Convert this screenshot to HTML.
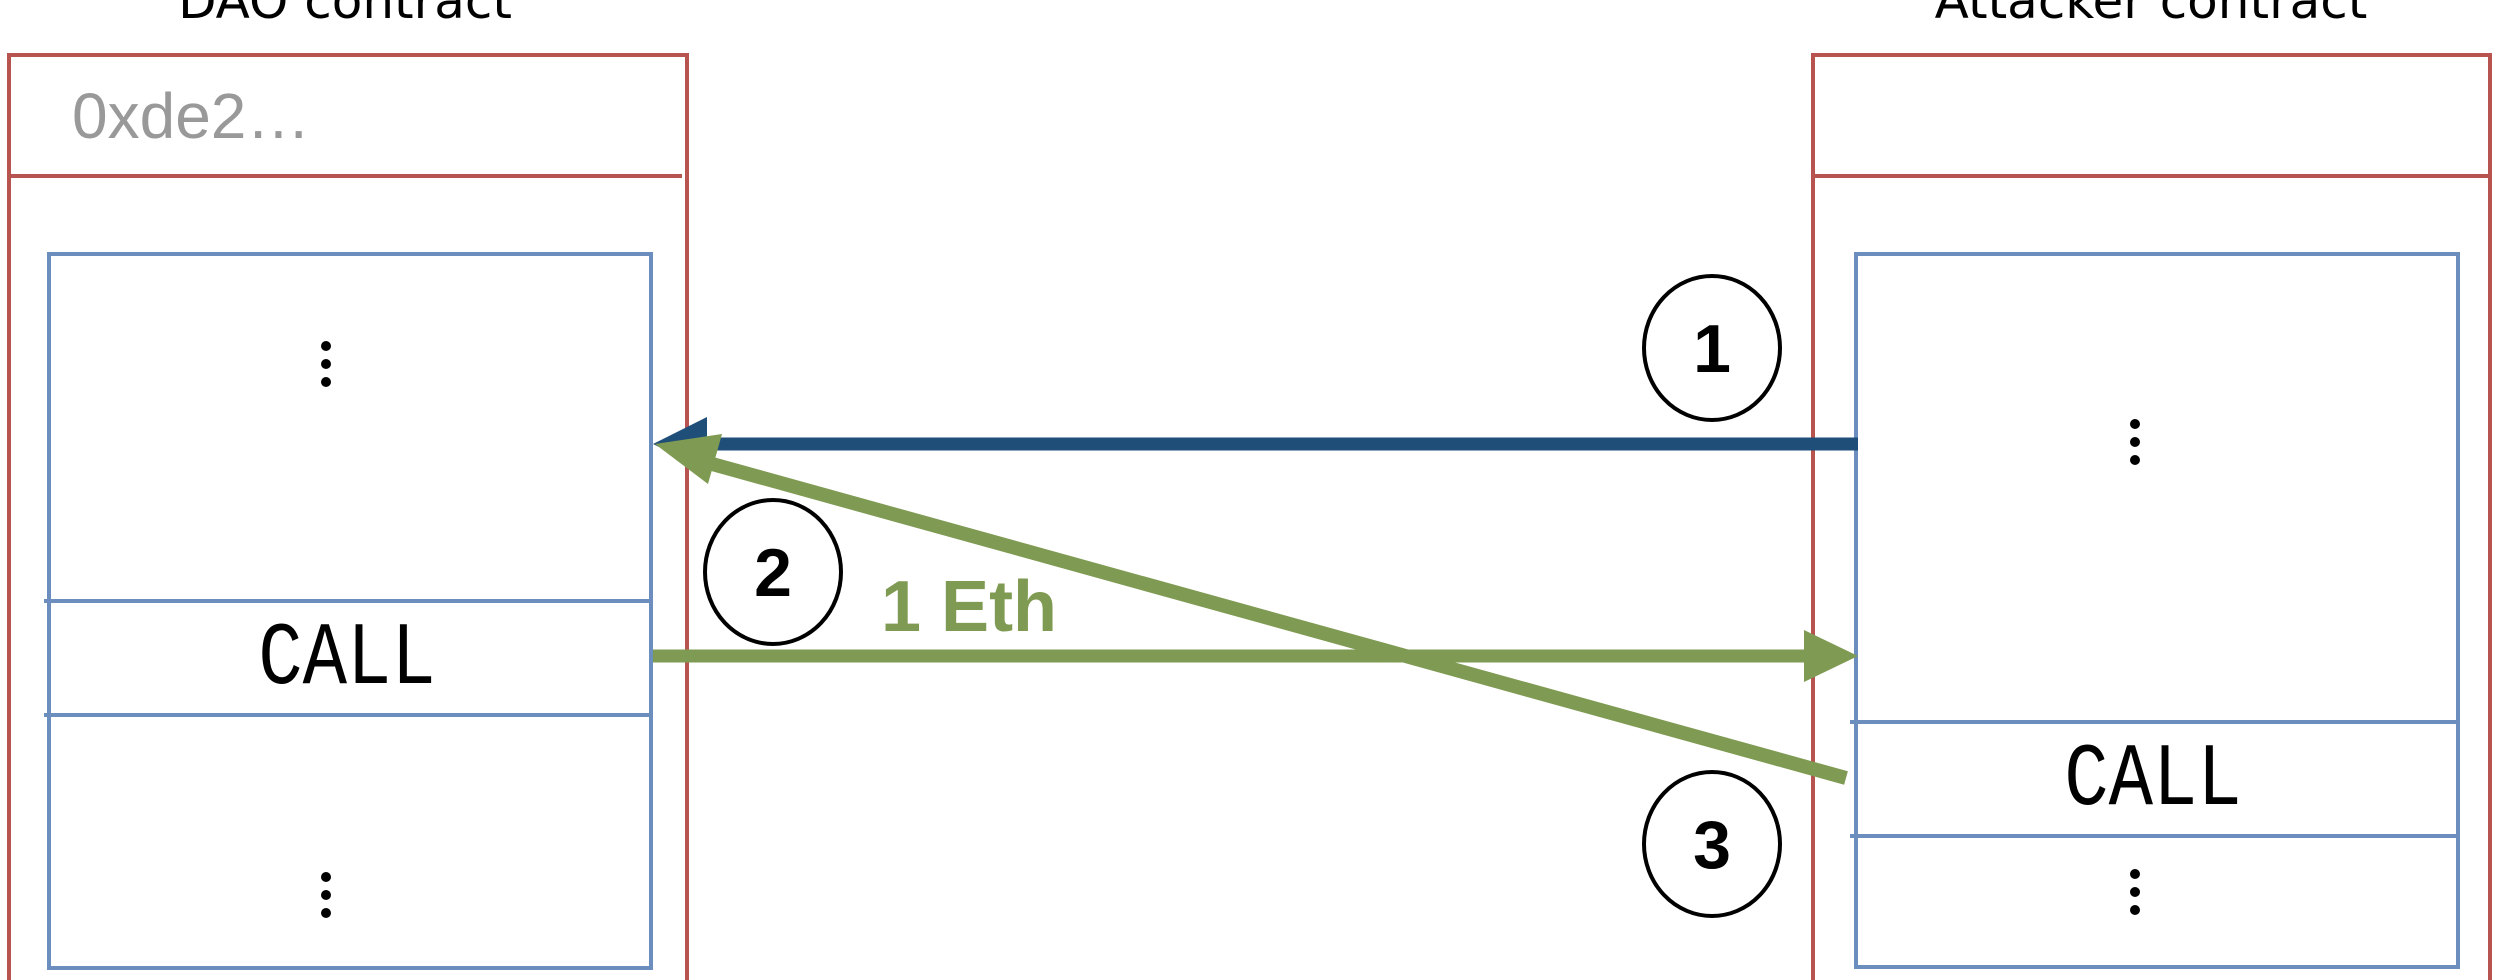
<!DOCTYPE html>
<html><head><meta charset="utf-8"><style>
html,body{margin:0;padding:0;background:#fff;}
svg{display:block;}
</style></head><body>
<svg width="2500" height="980" viewBox="0 0 2500 980" xmlns="http://www.w3.org/2000/svg">
<rect width="2500" height="980" fill="#fff"/>
<text x="345" y="18" font-family="DejaVu Sans, sans-serif" font-size="50" text-anchor="middle" fill="#000">DAO contract</text>
<text x="2151" y="18" font-family="DejaVu Sans, sans-serif" font-size="50" text-anchor="middle" fill="#000">Attacker contract</text>
<rect x="9" y="55" width="678" height="940" fill="none" stroke="#b85450" stroke-width="4"/>
<line x1="9" y1="176" x2="682" y2="176" stroke="#b85450" stroke-width="4"/>
<text x="72" y="138" font-family="Liberation Sans, sans-serif" font-size="64" fill="#999">0xde2…</text>
<rect x="49" y="254" width="602" height="714" fill="none" stroke="#6c8ebf" stroke-width="4"/>
<line x1="44" y1="601" x2="651" y2="601" stroke="#6c8ebf" stroke-width="4"/>
<line x1="44" y1="715" x2="651" y2="715" stroke="#6c8ebf" stroke-width="4"/>
<text x="0" y="0" transform="translate(347,683) scale(1,1.2)" font-family="Liberation Mono, monospace" font-size="74" text-anchor="middle" fill="#000">CALL</text>
<g fill="#000"><circle cx="326" cy="346" r="5"/><circle cx="326" cy="364" r="5"/><circle cx="326" cy="382" r="5"/>
<circle cx="326" cy="877" r="5"/><circle cx="326" cy="895" r="5"/><circle cx="326" cy="913" r="5"/></g>
<rect x="1813" y="55" width="677" height="940" fill="none" stroke="#b85450" stroke-width="4"/>
<line x1="1813" y1="176" x2="2490" y2="176" stroke="#b85450" stroke-width="4"/>
<rect x="1856" y="254" width="602" height="713" fill="none" stroke="#6c8ebf" stroke-width="4"/>
<line x1="1850" y1="722" x2="2458" y2="722" stroke="#6c8ebf" stroke-width="4"/>
<line x1="1850" y1="836" x2="2458" y2="836" stroke="#6c8ebf" stroke-width="4"/>
<text x="0" y="0" transform="translate(2153,804) scale(1,1.2)" font-family="Liberation Mono, monospace" font-size="74" text-anchor="middle" fill="#000">CALL</text>
<g fill="#000"><circle cx="2135" cy="424" r="5"/><circle cx="2135" cy="442" r="5"/><circle cx="2135" cy="460" r="5"/>
<circle cx="2135" cy="874" r="5"/><circle cx="2135" cy="892" r="5"/><circle cx="2135" cy="910" r="5"/></g>
<line x1="1858" y1="444" x2="700" y2="444" stroke="#1f4e79" stroke-width="13"/>
<polygon points="653,444 707,417 707,471" fill="#1f4e79"/>
<line x1="653" y1="656" x2="1810" y2="656" stroke="#7f9a52" stroke-width="13"/>
<polygon points="1858,656 1804,630 1804,682" fill="#7f9a52"/>
<line x1="1846" y1="778" x2="705" y2="462" stroke="#7f9a52" stroke-width="14"/>
<polygon points="655,444 722,434 708,484" fill="#7f9a52"/>
<text x="881" y="631" font-family="Liberation Sans, sans-serif" font-size="72" font-weight="bold" fill="#7f9a52">1 Eth</text>
<g fill="none" stroke="#000" stroke-width="4">
<ellipse cx="1712" cy="348" rx="68" ry="72"/>
<ellipse cx="773" cy="572" rx="68" ry="72"/>
<ellipse cx="1712" cy="844" rx="68" ry="72"/>
</g>
<g font-family="Liberation Sans, sans-serif" font-size="68" font-weight="bold" text-anchor="middle" fill="#000">
<text x="1712" y="372">1</text>
<text x="773" y="596">2</text>
<text x="1712" y="868">3</text>
</g>
</svg>
</body></html>
